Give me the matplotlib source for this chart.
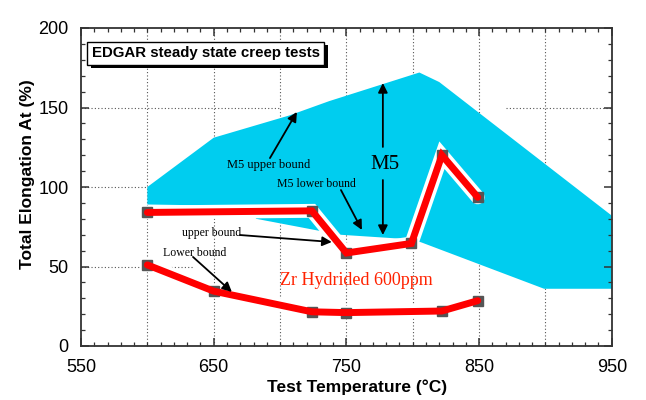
import matplotlib
matplotlib.use("Agg")
import matplotlib.pyplot as plt
import matplotlib.patheffects as pe
from matplotlib.ticker import MultipleLocator

# M5 band (cyan area), outline
m5_x = [600, 650, 707, 737, 805, 820, 950, 950, 899, 807, 800, 745, 682, 676, 600]
m5_y = [100, 131, 145, 154, 172, 166, 82, 36, 36, 65, 67, 70, 80, 88, 89]

# Zr hydrided 600ppm, upper and lower bound
up_x = [600, 724, 750, 799, 822, 849]
up_y = [84, 85, 58.5, 64.5, 120, 93.5]
low_x = [600, 650, 724, 750, 822, 849]
low_y = [51, 34.5, 21.5, 21, 22, 28.5]

xticks = [550, 650, 750, 850, 950]
yticks = [0, 50, 100, 150, 200]

serif = "Liberation Serif"
sans = "Liberation Sans"

fig = plt.figure(figsize=(6.46, 4.0), dpi=100)
ax = fig.add_axes([0.1254, 0.135, 0.8216, 0.795])

ax.set_xlim(550, 950)
ax.set_ylim(0, 200)

# dotted grid (only partly drawn in the original scan)
grid = dict(color="#555555", lw=0.8, ls=(0, (1, 2)), zorder=0)
for gx in [600, 650, 700, 750, 800, 850, 900]:
    ax.axvline(gx, **grid)
ax.hlines(150, 550, 700, **grid)
ax.hlines(150, 870, 950, **grid)
ax.hlines(100, 550, 600, **grid)
ax.hlines(50, 550, 635, **grid)

ax.fill(m5_x, m5_y, color="#00cdef", lw=0, zorder=1)

for xs, ys in [(up_x, up_y), (low_x, low_y)]:
    ax.plot(xs, ys, color="white", lw=10, solid_capstyle="round",
            solid_joinstyle="miter", zorder=2)
    ax.plot(xs, ys, ls="none", marker="s", ms=7, color="#555555", zorder=3)
    ax.plot(xs, ys, color="#ff0000", lw=5, solid_capstyle="round",
            solid_joinstyle="miter", zorder=4)

# box title with shadow
t = ax.text(558, 184, "EDGAR steady state creep tests", fontsize=10.8,
            fontweight="bold", family=sans, va="center", ha="left", zorder=6,
            bbox=dict(boxstyle="square,pad=0.3", fc="white", ec="black", lw=1))
t.get_bbox_patch().set_path_effects(
    [pe.withSimplePatchShadow(offset=(2.5, -2.5), shadow_rgbFace="black", alpha=1)])

# annotations
arr = dict(arrowstyle="-|>", color="black", lw=1.3, mutation_scale=14,
           shrinkA=0, shrinkB=0)
ax.text(660, 114, "M5 upper bound", fontsize=9, family=serif, va="center", zorder=6)
ax.text(698, 102, "M5 lower bound", fontsize=8.5, family=serif, va="center", zorder=6)
ax.text(779, 114, "M5", fontsize=15, family=serif, va="center", ha="center", zorder=6)
ax.text(626, 71, "upper bound", fontsize=8.5, family=serif, va="center", zorder=6)
ax.text(612, 58.5, "Lower bound", fontsize=8.5, family=serif, va="center", zorder=6)
ax.text(700, 41.5, "Zr Hydrided 600ppm", fontsize=13, family=serif,
        color="#ff2200", va="center", zorder=6)

ax.annotate("", xy=(712.7, 147.2), xytext=(692.4, 118.2), arrowprops=arr, zorder=6)
ax.annotate("", xy=(761.7, 73), xytext=(745.9, 98.1), arrowprops=arr, zorder=6)
ax.annotate("", xy=(777.5, 165.4), xytext=(777.5, 125.2), arrowprops=arr, zorder=6)
ax.annotate("", xy=(777.5, 69.8), xytext=(777.5, 104.4), arrowprops=arr, zorder=6)
ax.annotate("", xy=(739, 65.4), xytext=(669.8, 69.8), arrowprops=arr, zorder=6)
ax.annotate("", xy=(663.7, 34), xytext=(634.4, 56), arrowprops=arr, zorder=6)

# axes styling
ax.set_xticks(xticks)
ax.set_yticks(yticks)
ax.xaxis.set_minor_locator(MultipleLocator(10))
ax.yaxis.set_minor_locator(MultipleLocator(10))
ax.tick_params(which="both", direction="in", top=True, right=True, colors="#333333")
ax.tick_params(which="major", length=6, width=1.1, labelsize=13, pad=9)
ax.tick_params(which="minor", length=3, width=0.9)
for lab in ax.get_xticklabels() + ax.get_yticklabels():
    lab.set_family(sans)
    lab.set_color("black")
for s in ax.spines.values():
    s.set_linewidth(1.3)
    s.set_color("#333333")

fig.text(0.043, 0.565, "Total Elongation At (%)", rotation=90, fontsize=12.5,
         fontweight="bold", family=sans, ha="center", va="center")
fig.text(0.553, 0.033, "Test Temperature (°C)", fontsize=12.5,
         fontweight="bold", family=sans, ha="center", va="center")

fig.savefig("out.png", dpi=100)
